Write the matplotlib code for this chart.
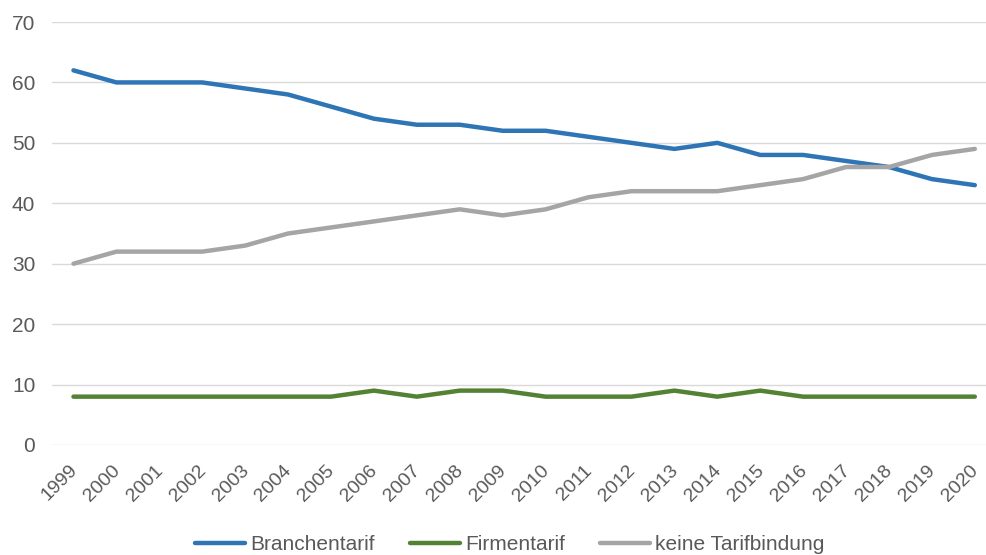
import matplotlib.pyplot as plt
import matplotlib.transforms as mtransforms

plt.rcParams['font.family'] = ['Liberation Sans', 'DejaVu Sans']

# data
years = [str(y) for y in range(1999, 2021)]
branchentarif = [62, 60, 60, 60, 59, 58, 56, 54, 53, 53, 52, 52, 51, 50, 49, 50, 48, 48, 47, 46, 44, 43]
firmentarif = [8, 8, 8, 8, 8, 8, 8, 9, 8, 9, 9, 8, 8, 8, 9, 8, 9, 8, 8, 8, 8, 8]
keine_tarifbindung = [30, 32, 32, 32, 33, 35, 36, 37, 38, 39, 38, 39, 41, 42, 42, 42, 43, 44, 46, 46, 48, 49]

fig = plt.figure(figsize=(9.86, 5.55), dpi=100)
ax = fig.add_axes([52 / 986, 110 / 555, 934 / 986, 423 / 555])

x = range(len(years))
ax.plot(x, branchentarif, color='#2E75B6', lw=3.2, label='Branchentarif', solid_capstyle='round')
ax.plot(x, firmentarif, color='#548235', lw=3.2, label='Firmentarif', solid_capstyle='round')
ax.plot(x, keine_tarifbindung, color='#A5A5A5', lw=3.2, label='keine Tarifbindung', solid_capstyle='round')

ax.set_ylim(0, 70)
ax.set_yticks(range(0, 71, 10))
ax.set_xlim(-0.5, 21.26)
ax.set_xticks(list(x))
ax.set_xticklabels(years, rotation=45, ha='right', rotation_mode='anchor')

ax.grid(axis='y', color='#D9D9D9', lw=1)
ax.set_axisbelow(True)
for s in ax.spines.values():
    s.set_visible(False)
ax.tick_params(axis='both', length=0, labelsize=15, colors='#595959')
ax.tick_params(axis='y', pad=12)
ax.tick_params(axis='x', pad=12, labelsize=14)

# year labels end a little left of where matplotlib puts them
offset = mtransforms.ScaledTranslation(-5 / 100, 0, fig.dpi_scale_trans)
for lbl in ax.get_xticklabels():
    lbl.set_transform(lbl.get_transform() + offset)

leg = ax.legend(loc='center', bbox_to_anchor=(0.49, -0.235), ncol=3, frameon=False,
                fontsize=15, handlelength=2.4, handletextpad=0.25, columnspacing=1.7)
for t in leg.get_texts():
    t.set_color('#595959')

fig.savefig('out.png', dpi=100)
